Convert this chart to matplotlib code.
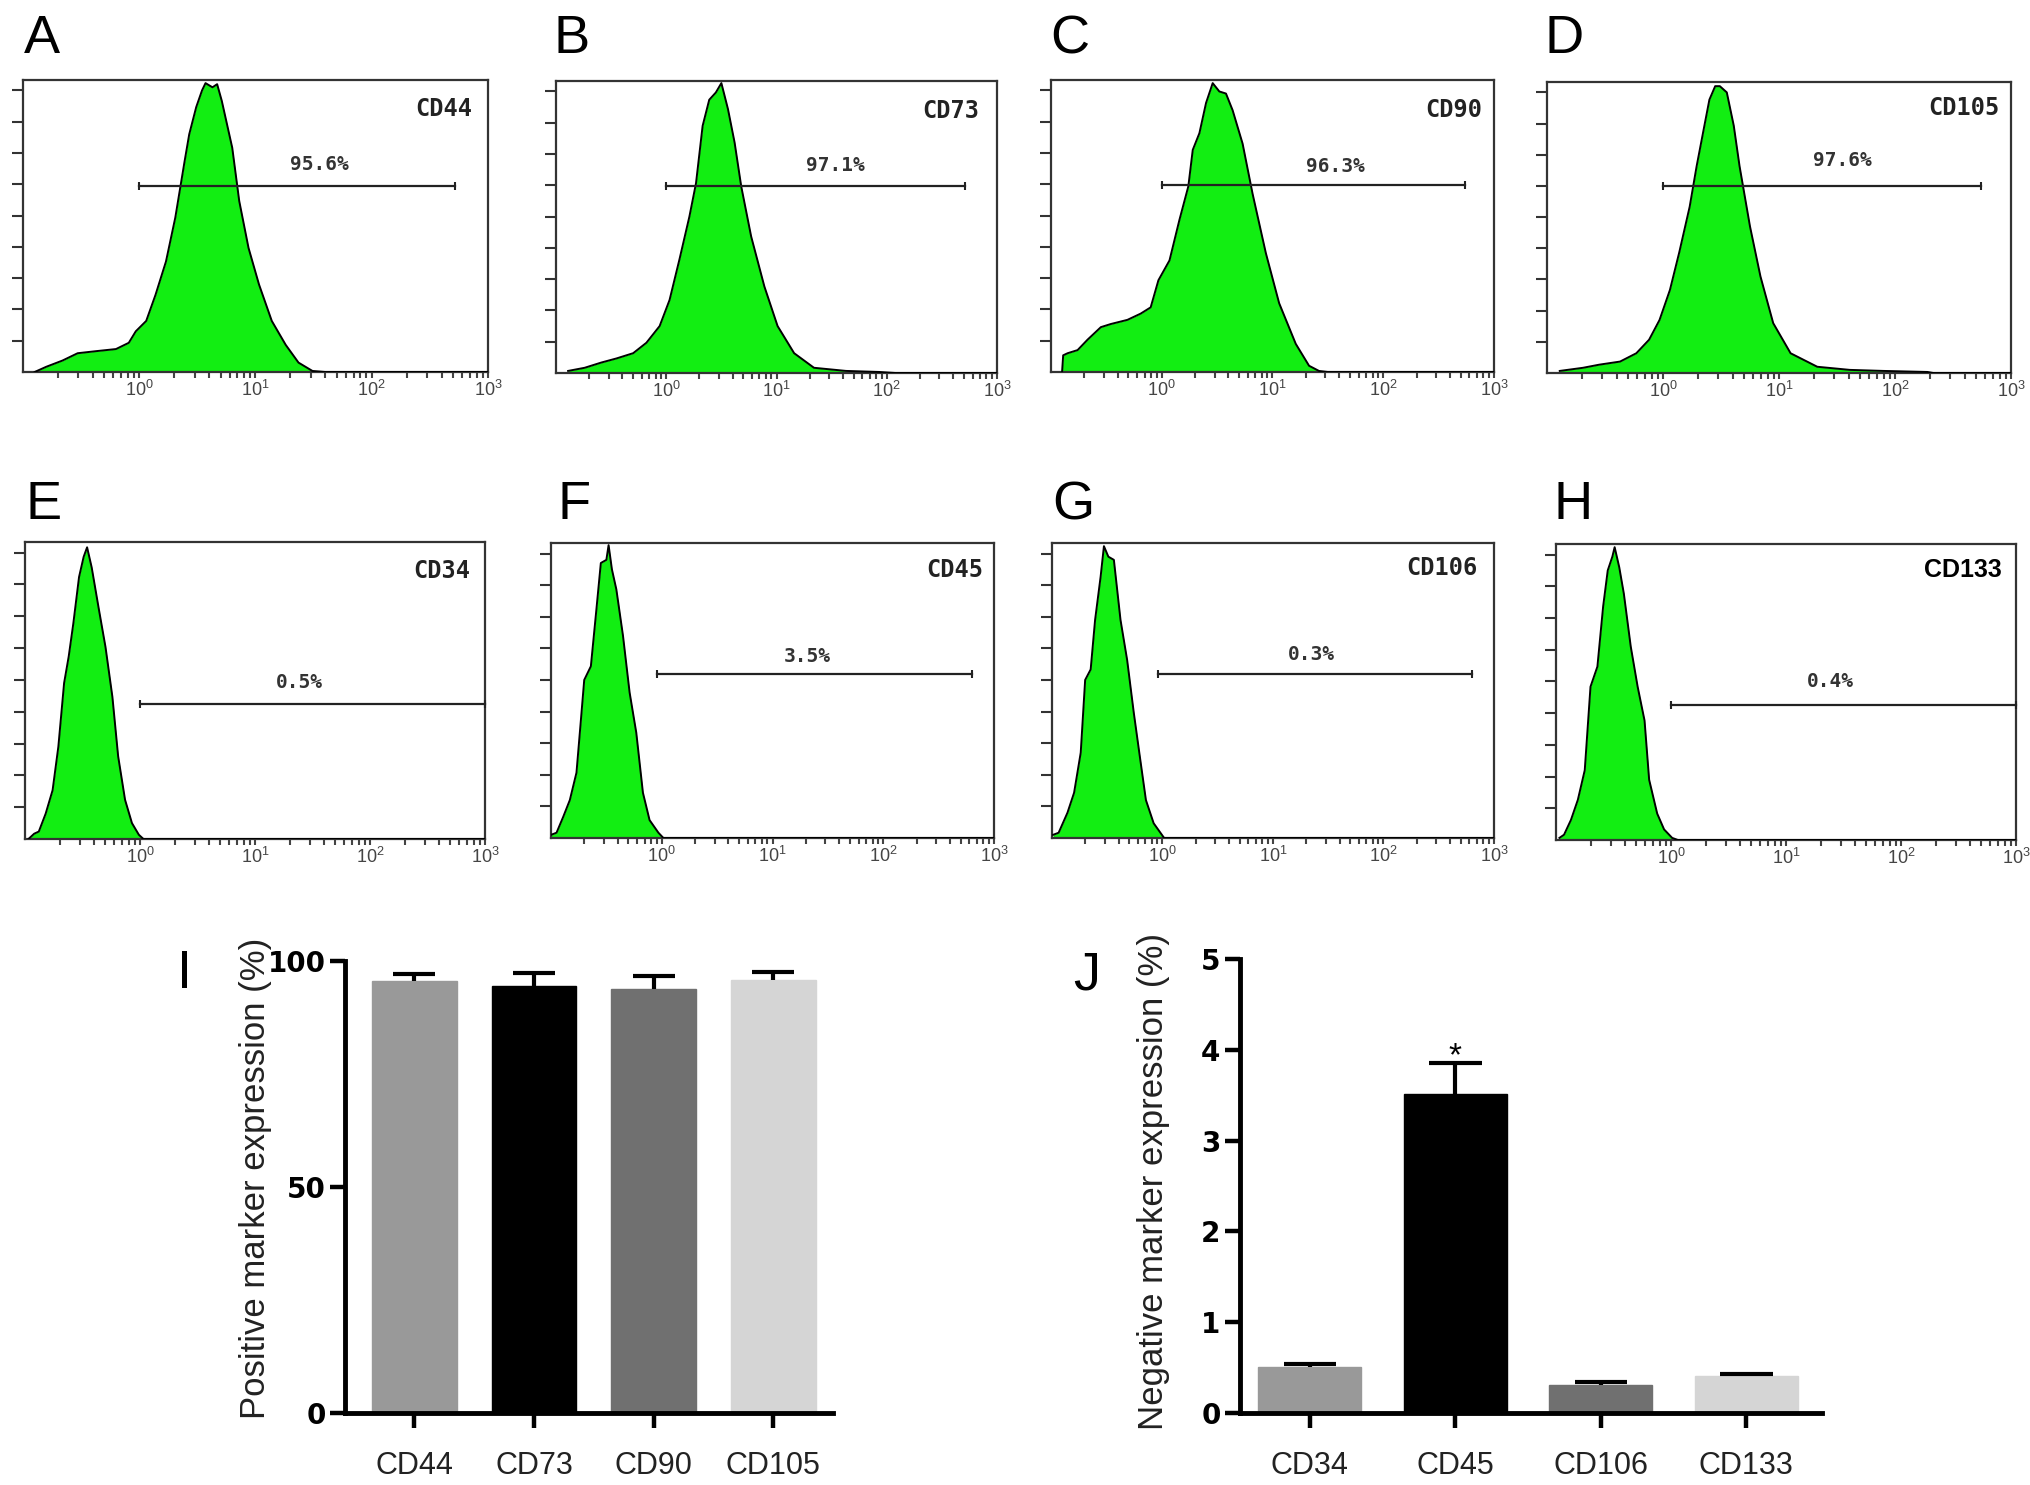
import numpy as np
import matplotlib
matplotlib.use("Agg")
import matplotlib.pyplot as plt
from matplotlib.ticker import FixedLocator, LogLocator, LogFormatterSciNotation, NullFormatter

plt.rcParams['font.family'] = ['Liberation Sans', 'DejaVu Sans']

# ---------------- flow cytometry histograms (log10 intensity, event counts) -------------
cd44_log = [-0.90, -0.80, -0.66, -0.53, -0.37, -0.20, -0.09, -0.03, 0.06, 0.14, 0.23, 0.31, 0.39,
            0.43, 0.49, 0.54, 0.57, 0.63, 0.67, 0.71, 0.80, 0.86, 0.94, 1.03, 1.14, 1.26, 1.37, 1.49, 1.60, 3.0]
cd44_cnt = [0, 5, 11, 18, 20, 22, 28, 39, 49, 74, 106, 148, 202,
            228, 254, 270, 277, 273, 276, 260, 215, 164, 119, 84, 49, 26, 9, 1, 0, 0]

cd73_log = [-0.89, -0.74, -0.59, -0.45, -0.30, -0.18, -0.06, 0.03, 0.12, 0.21, 0.27, 0.33, 0.39,
            0.45, 0.50, 0.56, 0.62, 0.68, 0.77, 0.89, 1.01, 1.16, 1.34, 1.63, 1.93, 2.08, 3.0]
cd73_cnt = [2, 5, 10, 14, 19, 29, 45, 70, 109, 150, 182, 237, 262,
            269, 278, 253, 221, 179, 131, 83, 45, 19, 5, 2, 1, 0, 0]

cd90_log = [-0.90, -0.89, -0.85, -0.76, -0.67, -0.55, -0.46, -0.31, -0.19, -0.10, -0.03, 0.07, 0.16,
            0.24, 0.28, 0.34, 0.40, 0.46, 0.52, 0.58, 0.64, 0.73, 0.82, 0.94, 1.06, 1.21, 1.33, 1.42, 1.50, 3.0]
cd90_cnt = [0, 16, 18, 21, 31, 43, 46, 50, 56, 62, 88, 107, 146,
            178, 213, 229, 258, 277, 269, 267, 251, 219, 171, 114, 66, 27, 6, 1, 0, 0]

cd105_log = [-0.89, -0.69, -0.55, -0.37, -0.23, -0.12, -0.03, 0.06, 0.14, 0.23, 0.29, 0.35, 0.40,
             0.45, 0.49, 0.55, 0.61, 0.66, 0.75, 0.84, 0.95, 1.10, 1.33, 1.61, 1.90, 2.28, 2.33, 3.0]
cd105_cnt = [2, 5, 8, 11, 19, 32, 51, 80, 116, 160, 199, 234, 263,
             276, 276, 270, 238, 199, 141, 93, 48, 19, 6, 3, 2, 1, 0, 0]

cd34_log = [-0.97, -0.92, -0.88, -0.82, -0.76, -0.71, -0.66, -0.62, -0.58, -0.53, -0.49, -0.46, -0.42,
            -0.36, -0.30, -0.24, -0.19, -0.13, -0.07, -0.01, 0.03, 3.0]
cd34_cnt = [0, 5, 7, 24, 46, 87, 147, 172, 203, 247, 266, 275, 256,
            218, 181, 134, 78, 37, 15, 4, 0, 0]

cd45_log = [-1.00, -0.95, -0.89, -0.83, -0.77, -0.73, -0.70, -0.64, -0.59, -0.55, -0.50, -0.48, -0.45,
            -0.41, -0.35, -0.29, -0.23, -0.17, -0.11, -0.03, 0.015, 3.0]
cd45_cnt = [3, 5, 20, 36, 62, 112, 150, 163, 217, 261, 264, 278, 255,
            236, 192, 138, 100, 43, 17, 5, 0, 0]

cd106_log = [-0.99, -0.94, -0.86, -0.80, -0.74, -0.70, -0.65, -0.61, -0.56, -0.53, -0.49, -0.44, -0.38,
             -0.32, -0.26, -0.21, -0.15, -0.08, 0.015, 3.0]
cd106_cnt = [3, 5, 24, 43, 81, 150, 160, 207, 248, 277, 267, 264, 207,
             169, 119, 81, 36, 14, 0, 0]

cd133_log = [-0.97, -0.93, -0.87, -0.81, -0.75, -0.70, -0.64, -0.59, -0.55, -0.51, -0.49, -0.45, -0.41,
             -0.35, -0.29, -0.23, -0.19, -0.12, -0.06, 0.01, 0.06, 3.0]
cd133_cnt = [2, 5, 19, 38, 66, 145, 164, 221, 255, 268, 277, 258, 233,
             183, 145, 113, 57, 25, 10, 2, 0, 0]

hist_markers = ['CD44', 'CD73', 'CD90', 'CD105', 'CD34', 'CD45', 'CD106', 'CD133']
hist_letters = ['A', 'B', 'C', 'D', 'E', 'F', 'G', 'H']
hist_pcts = ['95.6%', '97.1%', '96.3%', '97.6%', '0.5%', '3.5%', '0.3%', '0.4%']
gate_lo_log = [0.0, 0.0, 0.0, 0.0, 0.0, -0.045, -0.045, 0.0]
gate_hi_log = [2.72, 2.71, 2.74, 2.74, 3.0, 2.80, 2.80, 3.0]
gate_level = [178, 179, 179, 180, 127, 156, 156, 128]
pct_pos_log = [1.55, 1.53, 1.57, 1.55, 1.39, 1.31, 1.35, 1.39]
pct_pos_cnt = [199, 199, 197, 204, 148, 172, 174, 150]
name_pos_log = [2.62, 2.58, 2.64, 2.59, 2.62, 2.65, 2.53, 2.54]
name_pos_cnt = [252, 251, 251, 255, 253, 254, 256, 255]

hist_logs = [cd44_log, cd73_log, cd90_log, cd105_log, cd34_log, cd45_log, cd106_log, cd133_log]
hist_cnts = [cd44_cnt, cd73_cnt, cd90_cnt, cd105_cnt, cd34_cnt, cd45_cnt, cd106_cnt, cd133_cnt]

# ---------------- bar charts ----------------
pos_labels = ['CD44', 'CD73', 'CD90', 'CD105']
pos_mean = [95.5, 94.4, 93.8, 95.8]
pos_err = [1.7, 3.0, 2.8, 1.8]
neg_labels = ['CD34', 'CD45', 'CD106', 'CD133']
neg_mean = [0.51, 3.51, 0.31, 0.41]
neg_err = [0.03, 0.34, 0.035, 0.025]

W, H = 2031, 1485
fig = plt.figure(figsize=(W / 100, H / 100), dpi=100)
fig.patch.set_facecolor('white')


def add_ax(l, t, r, b):
    return fig.add_axes([l / W, 1 - b / H, (r - l) / W, (b - t) / H])


frames = [(23, 80, 488, 372), (556, 81, 997, 373), (1051, 80, 1494, 372), (1547, 82, 2011, 373),
          (25, 542, 485, 839), (551, 543, 994, 838), (1052, 543, 1494, 838), (1556, 544, 2016, 840)]
letter_pos = [(24, 53), (554, 53), (1050, 53), (1545, 53),
              (26, 519), (557, 519), (1052, 519), (1554, 519)]

for i in range(8):
    ax = add_ax(*frames[i])
    x = 10 ** np.array(hist_logs[i])
    y = np.array(hist_cnts[i])
    ax.fill_between(x, y, 0, color='#12ee12', lw=0, zorder=2)
    ax.plot(x, y, color='black', lw=1.4, zorder=3)
    ax.set_xscale('log')
    ax.set_xlim(0.1, 1000)
    ax.set_ylim(0, 280)
    ax.xaxis.set_major_locator(FixedLocator([1, 10, 100, 1000]))
    ax.xaxis.set_major_formatter(LogFormatterSciNotation())
    ax.xaxis.set_minor_locator(LogLocator(base=10, subs=np.arange(2, 10), numticks=20))
    ax.xaxis.set_minor_formatter(NullFormatter())
    ax.set_yticks(np.arange(30, 271, 30))
    ax.set_yticklabels([])
    ax.tick_params(axis='y', direction='out', length=8, width=1.5, color='#333333')
    ax.tick_params(axis='x', which='both', direction='out', length=4, width=1.5,
                   color='#444444', labelcolor='#444444', labelsize=13, pad=2)
    for s in ax.spines.values():
        s.set_linewidth(1.6)
        s.set_color('#333333')
    lo, hi = 10 ** gate_lo_log[i], 10 ** gate_hi_log[i]
    ax.plot([lo, hi], [gate_level[i]] * 2, color='#222222', lw=1.6, zorder=4, clip_on=False,
            marker='|', ms=6, mew=1.5)
    ax.text(10 ** pct_pos_log[i], pct_pos_cnt[i], hist_pcts[i], ha='center', va='center',
            fontsize=14, family='DejaVu Sans Mono', weight='bold', color='#333333')
    if hist_markers[i] == 'CD133':
        ax.text(10 ** name_pos_log[i], name_pos_cnt[i], hist_markers[i], ha='center', va='center',
                fontsize=18, family='Liberation Sans', weight='bold', color='black')
    else:
        ax.text(10 ** name_pos_log[i], name_pos_cnt[i], hist_markers[i], ha='center', va='center',
                fontsize=17, family='DejaVu Sans Mono', weight='bold', color='#222222')
    lx, ly = letter_pos[i]
    fig.text(lx / W, 1 - ly / H, hist_letters[i], fontsize=39, ha='left', va='baseline')


def bar_panel(ax, labels, means, errs, colors, ylim, yticks, xlim, cap_hw, ylabel, lab_x, lab_y):
    xs = np.arange(len(labels))
    means = np.array(means)
    errs = np.array(errs)
    ax.bar(xs, means, width=0.71, color=colors, edgecolor=colors, lw=1, zorder=2)
    ax.vlines(xs, means, means + errs, color='black', lw=3.0, zorder=3)
    ax.hlines(means + errs, xs - cap_hw, xs + cap_hw, color='black', lw=3.0, zorder=3)
    ax.set_xlim(*xlim)
    ax.set_ylim(*ylim)
    ax.set_yticks(yticks)
    ax.set_xticks(xs)
    ax.set_xticklabels(labels)
    for s in ['top', 'right']:
        ax.spines[s].set_visible(False)
    for s in ['left', 'bottom']:
        ax.spines[s].set_linewidth(3.5)
    ax.tick_params(axis='x', direction='out', length=11, width=3.2, pad=16, labelsize=22,
                   colors='black', labelcolor='#222222')
    ax.tick_params(axis='y', direction='out', length=11, width=3.2, pad=3, labelsize=20)
    for t in ax.get_yticklabels():
        t.set_fontweight('bold')
        t.set_family('DejaVu Sans')
    ax.set_ylabel(ylabel, fontsize=25, color='#222222')
    ax.yaxis.set_label_coords(lab_x, lab_y)


axI = add_ax(345, 961, 833, 1413)
bar_panel(axI, pos_labels, pos_mean, pos_err, ['#999999', '#000000', '#707070', '#d5d5d5'],
          (0, 100), [0, 50, 100], (-0.58, 3.5), 0.175, 'Positive marker expression (%)', -0.15, 0.52)

axJ = add_ax(1240, 959, 1822, 1413)
bar_panel(axJ, neg_labels, neg_mean, neg_err, ['#999999', '#000000', '#707070', '#d5d5d5'],
          (0, 5), [0, 1, 2, 3, 4, 5], (-0.48, 3.52), 0.18, 'Negative marker expression (%)', -0.12, 0.51)
axJ.text(1, neg_mean[1] + neg_err[1] - 0.02, '*', ha='center', va='baseline', fontsize=24)

fig.text(177 / W, 1 - 988 / H, 'I', fontsize=39, ha='left', va='baseline')
fig.text(1073 / W, 1 - 990 / H, 'J', fontsize=39, ha='left', va='baseline')

fig.savefig('out.png', dpi=100, facecolor='white')
